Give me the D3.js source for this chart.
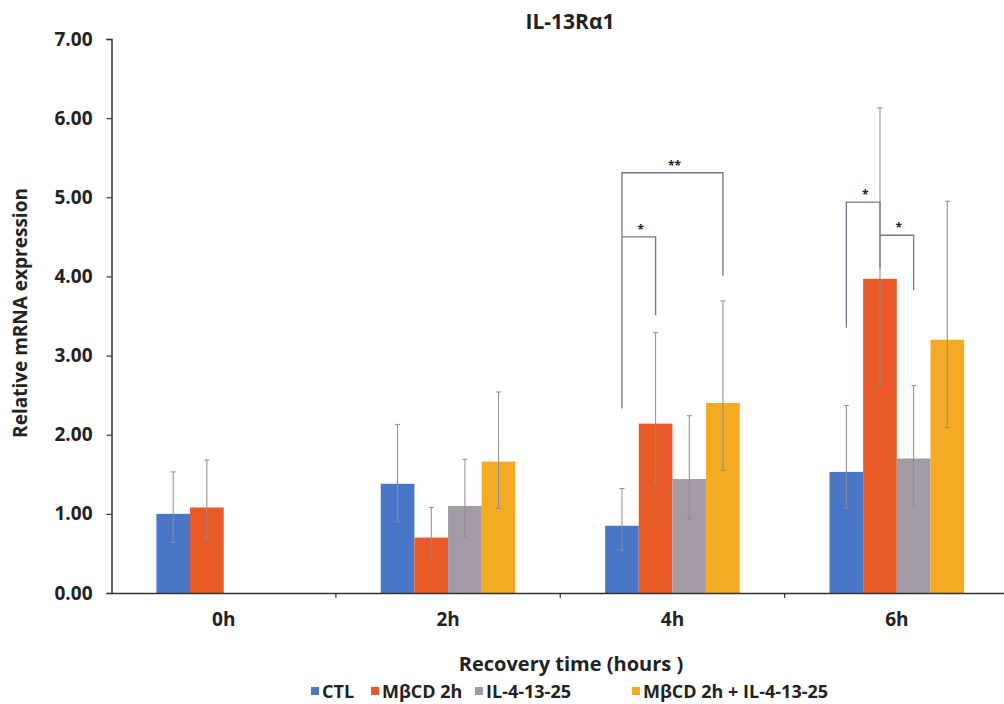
<!DOCTYPE html>
<html>
<head>
<meta charset="utf-8">
<script src="https://cdn.jsdelivr.net/npm/d3@7.9.0/dist/d3.min.js"></script>
<style>
  body { margin: 0; background: #fff; }
  svg { display: block; font-family: "Open Sans", sans-serif; }
</style>
</head>
<body>
<svg id="chart" width="1004" height="704"></svg>
<script>
const groups = ['0h', '2h', '4h', '6h'];
const seriesNames = ['CTL', 'MβCD 2h', 'IL-4-13-25', 'MβCD 2h + IL-4-13-25'];
const seriesColors = ['#4a76c8', '#ea5a28', '#a19ba6', '#f4aa22'];

// mean values per series (null = no bar)
const ctl = [1.00, 1.38, 0.85, 1.53];
const mbcd = [1.08, 0.70, 2.14, 3.97];
const il = [null, 1.10, 1.44, 1.70];
const combo = [null, 1.66, 2.40, 3.20];

// error bar ends (upper / lower)
const ctlHi = [1.53, 2.13, 1.32, 2.37];
const ctlLo = [0.64, 0.90, 0.54, 1.07];
const mbcdHi = [1.68, 1.08, 3.29, 6.13];
const mbcdLo = [0.69, 0.46, 1.39, 2.63];
const ilHi = [null, 1.69, 2.24, 2.62];
const ilLo = [null, 0.70, 0.93, 1.10];
const comboHi = [null, 2.54, 3.69, 4.95];
const comboLo = [null, 1.07, 1.55, 2.09];

const yTicks = [0, 1, 2, 3, 4, 5, 6, 7];

// significance brackets: group, from series, to series, top, left leg end, right leg end, label
const brackets = [
  { group: '4h', from: 0, to: 3, top: 5.31, leftEnd: 2.33, rightEnd: 4.01, label: '**' },
  { group: '4h', from: 0, to: 1, top: 4.50, leftEnd: 4.50, rightEnd: 3.51, label: '*' },
  { group: '6h', from: 0, to: 1, top: 4.94, leftEnd: 3.35, rightEnd: 4.11, label: '*' },
  { group: '6h', from: 1, to: 2, top: 4.52, leftEnd: 4.52, rightEnd: 3.83, label: '*' }
];

const means = [ctl, mbcd, il, combo];
const his = [ctlHi, mbcdHi, ilHi, comboHi];
const los = [ctlLo, mbcdLo, ilLo, comboLo];

const svg = d3.select('#chart');
const plotLeft = 111.5, plotRight = 1009, plotTop = 39, plotBottom = 593;

const x0 = d3.scaleBand().domain(groups).range([plotLeft, plotRight]).paddingInner(0).paddingOuter(0);
const x1 = d3.scaleBand().domain(d3.range(4)).range([0, x0.bandwidth() * 0.6]);
const groupOffset = x0.bandwidth() * 0.2;
const y = d3.scaleLinear().domain([0, 7]).range([plotBottom, plotTop]);

const cx = (g, s) => x0(g) + groupOffset + x1(s) + x1.bandwidth() / 2;

// bars
means.forEach((vals, s) => {
  svg.append('g').selectAll('rect')
    .data(groups.map((g, i) => ({ g, v: vals[i] })).filter(d => d.v != null))
    .join('rect')
    .attr('x', d => x0(d.g) + groupOffset + x1(s))
    .attr('y', d => y(d.v))
    .attr('width', x1.bandwidth())
    .attr('height', d => y(0) - y(d.v))
    .attr('fill', seriesColors[s]);
});

// error bars
means.forEach((vals, s) => {
  groups.forEach((g, i) => {
    if (vals[i] == null) return;
    const xc = cx(g, s);
    const eg = svg.append('g').attr('stroke', '#8c8a92').attr('stroke-width', 1);
    eg.append('line').attr('x1', xc).attr('x2', xc).attr('y1', y(his[s][i])).attr('y2', y(los[s][i]));
    eg.append('line').attr('x1', xc - 2.5).attr('x2', xc + 2.5).attr('y1', y(his[s][i])).attr('y2', y(his[s][i]));
    eg.append('line').attr('x1', xc - 2.5).attr('x2', xc + 2.5).attr('y1', y(los[s][i])).attr('y2', y(los[s][i]));
  });
});

// brackets
brackets.forEach(b => {
  const xa = cx(b.group, b.from), xb = cx(b.group, b.to);
  svg.append('path')
    .attr('d', `M${xa},${y(b.leftEnd)}V${y(b.top)}H${xb}V${y(b.rightEnd)}`)
    .attr('fill', 'none')
    .attr('stroke', '#77758a')
    .attr('stroke-width', 1.3);
  svg.append('text')
    .attr('x', (xa + xb) / 2 + 2)
    .attr('y', y(b.top) - 3)
    .attr('text-anchor', 'middle')
    .attr('font-size', 12)
    .attr('font-weight', 'bold')
    .attr('fill', '#222')
    .text(b.label);
});

// y axis
const yAxis = svg.append('g')
  .attr('transform', `translate(${plotLeft},0)`)
  .call(d3.axisLeft(y).tickValues(yTicks).tickFormat(d3.format('.2f')).tickSize(5).tickPadding(14));
yAxis.select('.domain').attr('stroke', '#333').attr('stroke-width', 1.5);
yAxis.selectAll('.tick line').attr('stroke', '#333').attr('stroke-width', 1.2);
yAxis.selectAll('.tick text')
  .attr('font-family', '"Open Sans", sans-serif')
  .attr('font-size', 19).attr('font-weight', 'bold').attr('fill', '#222');

// x axis
const xAxis = svg.append('g')
  .attr('transform', `translate(0,${plotBottom})`)
  .call(d3.axisBottom(x0).tickSize(0).tickPadding(20));
xAxis.select('.domain').attr('stroke', '#333').attr('stroke-width', 1.5);
xAxis.selectAll('.tick text')
  .attr('font-family', '"Open Sans", sans-serif')
  .attr('font-size', 19).attr('font-weight', 'bold').attr('fill', '#222');
svg.append('g').selectAll('line')
  .data(groups.slice(1))
  .join('line')
  .attr('x1', d => x0(d)).attr('x2', d => x0(d))
  .attr('y1', plotBottom).attr('y2', plotBottom + 5)
  .attr('stroke', '#333').attr('stroke-width', 1.2);

// titles
svg.append('text')
  .attr('x', 570).attr('y', 29)
  .attr('text-anchor', 'middle')
  .attr('font-size', 21).attr('font-weight', 'bold').attr('fill', '#222')
  .text('IL-13Rα1');

svg.append('text')
  .attr('transform', 'translate(27,313) rotate(-90)')
  .attr('text-anchor', 'middle')
  .attr('font-size', 19).attr('font-weight', 'bold').attr('fill', '#222')
  .text('Relative mRNA expression');

svg.append('text')
  .attr('x', 571).attr('y', 671)
  .attr('text-anchor', 'middle')
  .attr('font-size', 20).attr('font-weight', 'bold').attr('fill', '#222')
  .text('Recovery time (hours )');

// legend
const legendX = [311, 371, 475, 632];
const legend = svg.append('g');
seriesNames.forEach((name, i) => {
  legend.append('rect')
    .attr('x', legendX[i]).attr('y', 687)
    .attr('width', 8).attr('height', 8)
    .attr('fill', seriesColors[i]);
  legend.append('text')
    .attr('x', legendX[i] + 11).attr('y', 698)
    .attr('font-size', 18).attr('font-weight', 'bold').attr('fill', '#222')
    .text(name);
});
</script>
</body>
</html>
